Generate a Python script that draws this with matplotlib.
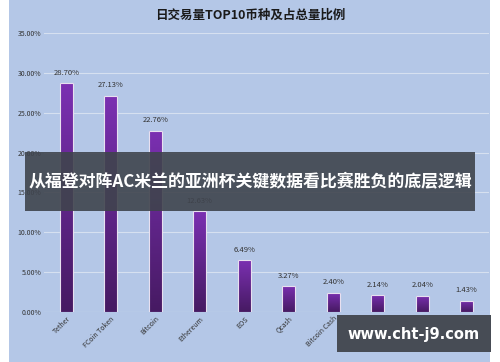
import matplotlib
matplotlib.use("Agg")
import matplotlib.pyplot as plt
import numpy as np
from matplotlib.patches import Rectangle
from matplotlib.colors import LinearSegmentedColormap

plt.rcParams['font.family'] = ['Noto Sans CJK SC', 'DejaVu Sans']

categories = ["Tether", "FCoin Token", "Bitcoin", "Ethereum", "EOS", "Qcash",
              "Bitcoin Cash", "Ethereum...", "Litecoin", "Zcash"]
values = [28.70, 27.13, 22.76, 12.63, 6.49, 3.27, 2.40, 2.14, 2.04, 1.43]
yticks = [0, 5, 10, 15, 20, 25, 30, 35]
title = "日交易量TOP10币种及占总量比例"
banner = "从福登对阵AC米兰的亚洲杯关键数据看比赛胜负的底层逻辑"
watermark = "www.cht-j9.com"

bg = "#B4C7E7"
fig = plt.figure(figsize=(5.0, 3.62), dpi=100)
fig.patch.set_facecolor("white")
fig.add_artist(Rectangle((9/500, 0), (490-9)/500, 1, transform=fig.transFigure,
                         facecolor=bg, edgecolor="none", zorder=0))

ax = fig.add_axes([44/500, 1-312/362, 445/500, (312-33)/362])
ax.set_facecolor("none")
ax.set_xlim(-0.5, len(categories)-0.5)
ax.set_ylim(0, 35)
ax.set_yticks(yticks)
ax.set_yticklabels([f"{v:.2f}%" for v in yticks], fontsize=5, color="#333333")
for s in ax.spines.values():
    s.set_visible(False)
ax.tick_params(axis='both', length=0, pad=2)
ax.yaxis.grid(True, color="#D6E0F0", linewidth=0.8)
ax.set_axisbelow(True)
ax.axhline(0, color="#D6E0F0", linewidth=0.8, zorder=1)

x = np.arange(len(categories))
bars = ax.bar(x, values, width=0.3, color="none", edgecolor="#E8E0F0", linewidth=0.8, zorder=3)
cmap = LinearSegmentedColormap.from_list("g", ["#461A62", "#7B30B2"])
grad = np.linspace(0, 1, 256).reshape(-1, 1)
for b, v in zip(bars, values):
    im = ax.imshow(grad, extent=[b.get_x(), b.get_x()+b.get_width(), 0, v],
                   origin="lower", cmap=cmap, aspect="auto", zorder=2)
    im.set_clip_path(b)
    ax.text(b.get_x()+b.get_width()/2, v+0.8, f"{v:.2f}%", ha="center", va="bottom",
            fontsize=5.5, color="#333333", zorder=4)
ax.set_xticks(x)
ax.set_xticklabels(categories, rotation=45, ha="right", rotation_mode="anchor",
                   fontsize=5, color="#333333")

fig.text(0.5, 1-15/362, title, ha="center", va="center", fontsize=9, color="#1a1a1a",
         fontweight="bold")

fig.add_artist(Rectangle((25/500, 1-211/362), 450/500, 59/362, transform=fig.transFigure,
                         facecolor="#3F444D", edgecolor="none", alpha=0.9, zorder=10))
fig.text(0.5, 1-182/362, banner, ha="center", va="center", fontsize=12.2, color="white",
         fontweight="bold", zorder=11)

fig.add_artist(Rectangle((337/500, 1-352/362), 154/500, 37/362, transform=fig.transFigure,
                         facecolor="#474C55", edgecolor="none", zorder=10))
fig.text(414/500, 1-334/362, watermark, ha="center", va="center", fontsize=10.5,
         color="white", fontweight="bold", family=["DejaVu Sans"], zorder=11)

fig.savefig("out.png", dpi=100, facecolor="white")
